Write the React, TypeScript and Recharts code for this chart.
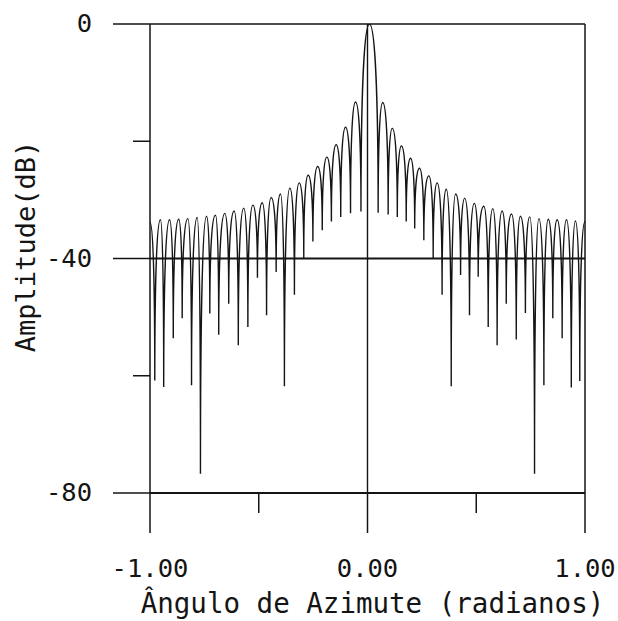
import React from "react";
import { LineChart, Line, XAxis, YAxis, ReferenceLine } from "recharts";

// lobe maxima (radians, dB)
const peakAngle = [
    -1.0, -0.952, -0.91, -0.868, -0.826, -0.783, -0.74, -0.699, -0.656, -0.613, -0.569, -0.527,
    -0.484, -0.443, -0.4, -0.357, -0.314, -0.273, -0.229, -0.187, -0.144, -0.101, -0.055,
    0.009,
    0.07, 0.114, 0.156, 0.198, 0.239, 0.282, 0.32, 0.362, 0.405, 0.447, 0.491, 0.535,
    0.576, 0.619, 0.662, 0.703, 0.746, 0.788, 0.831, 0.872, 0.915, 0.956, 1.0,
];
const peakLevel = [
    -33.8, -33.4, -33.4, -33.3, -33.2, -33.0, -32.8, -32.6, -32.3, -31.9, -31.4, -30.9,
    -30.5, -29.6, -29.0, -28.0, -27.1, -25.8, -24.3, -22.7, -20.6, -17.6, -13.3,
    0,
    -13.4, -17.8, -20.8, -22.9, -24.6, -25.9, -27.1, -28.2, -29.0, -29.7, -30.6, -31.1,
    -31.5, -31.9, -32.4, -32.8, -32.9, -33.2, -33.3, -33.4, -33.4, -33.6, -33.7,
];

// nulls between the lobes
const nullAngle = [
    -0.978, -0.937, -0.893, -0.852, -0.809, -0.768, -0.725, -0.684, -0.638, -0.594, -0.55, -0.506,
    -0.464, -0.42, -0.382, -0.336, -0.293, -0.251, -0.208, -0.166, -0.123, -0.078, -0.03,
    0.049, 0.095, 0.137, 0.178, 0.217, 0.259, 0.302, 0.343, 0.385, 0.428, 0.469, 0.509,
    0.555, 0.596, 0.638, 0.684, 0.726, 0.768, 0.811, 0.852, 0.895, 0.937, 0.976,
];
const nullLevel = [
    -60.8, -61.9, -53.6, -50.2, -61.6, -76.7, -49.4, -53.0, -47.7, -54.8, -51.7, -43.3,
    -49.7, -42.3, -61.8, -46.2, -40.0, -37.1, -35.2, -33.7, -32.9, -32.3, -32.0,
    -32.2, -32.5, -32.9, -33.7, -34.9, -36.9, -40.0, -46.2, -61.8, -42.8, -49.7, -43.1,
    -51.7, -54.8, -47.7, -53.8, -49.3, -76.7, -61.6, -50.2, -53.6, -62.0, -60.9,
];

const xTicks = [-1, -0.5, 0, 0.5, 1];
const xTickLabels = ["-1.00", "", "0.00", "", "1.00"];
const yTicks = [-80, -60, -40, -20, 0];
const yTickLabels = ["-80", "", "-40", "", "0"];

const pattern = [
    ...peakAngle.map((angle, i) => ({ angle, level: peakLevel[i] })),
    ...nullAngle.map((angle, i) => ({ angle, level: nullLevel[i] })),
].sort((a, b) => a.angle - b.angle);

const INK = "#141414";
const FONT = '"DejaVu Sans Mono", "Liberation Mono", monospace';

// lobes are round on top and drop steeply into each null
function lobeCurve(context: any) {
    let pts: [number, number][] = [];
    return {
        areaStart() {},
        areaEnd() {},
        lineStart() {
            pts = [];
        },
        point(x: number, y: number) {
            pts.push([+x, +y]);
        },
        lineEnd() {
            if (!pts.length) return;
            context.moveTo(pts[0][0], pts[0][1]);
            for (let i = 1; i < pts.length; i++) {
                const [x0, y0] = pts[i - 1];
                const [x1, y1] = pts[i];
                const dx = x1 - x0;
                if (y1 > y0) {
                    context.bezierCurveTo(x0 + dx * 0.6, y0, x1, y0 + (y1 - y0) * 0.35, x1, y1);
                } else {
                    context.bezierCurveTo(x0, y1 + (y0 - y1) * 0.35, x1 - dx * 0.6, y1, x1, y1);
                }
            }
        },
    };
}

function XTick({ x, y, payload }: any) {
    const label = xTickLabels[xTicks.indexOf(payload.value)];
    return (
        <g>
            <line x1={x} x2={x} y1={y} y2={y + (label ? 40 : 20)} stroke={INK} strokeWidth={1.5} />
            {label && (
                <text x={x} y={y + 84} textAnchor="middle" fontFamily={FONT} fontSize={25.5} fill={INK}>
                    {label}
                </text>
            )}
        </g>
    );
}

function YTick({ x, y, payload }: any) {
    const label = yTickLabels[yTicks.indexOf(payload.value)];
    return (
        <g>
            <line x1={x - (label ? 37 : 17)} x2={x} y1={y} y2={y} stroke={INK} strokeWidth={1.5} />
            {label && (
                <text x={x - 58} y={y + 8} textAnchor="end" fontFamily={FONT} fontSize={25.5} fill={INK}>
                    {label}
                </text>
            )}
        </g>
    );
}

function yTitle({ viewBox }: any) {
    const cx = viewBox.x + 35;
    const cy = viewBox.y + viewBox.height / 2 - 12;
    return (
        <text x={cx} y={cy} transform={`rotate(-90, ${cx}, ${cy})`} textAnchor="middle" fontFamily={FONT} fontSize={27} fill={INK}>
            Amplitude(dB)
        </text>
    );
}

function xTitle({ viewBox }: any) {
    return (
        <text x={viewBox.x + viewBox.width / 2 + 5} y={viewBox.y + 120} textAnchor="middle" fontFamily={FONT} fontSize={27.5} fill={INK}>
            Ângulo de Azimute (radianos)
        </text>
    );
}

export default function App() {
    return (
        <div style={{ position: "absolute", left: 0, top: 0, width: 618, height: 621, background: "#fff" }}>
            <LineChart width={618} height={621} data={pattern} margin={{ top: 24, right: 33, bottom: 0, left: 0 }}>
                <XAxis
                    dataKey="angle"
                    type="number"
                    domain={[-1, 1]}
                    ticks={xTicks}
                    interval={0}
                    height={128}
                    tickSize={0}
                    tickMargin={0}
                    tickLine={false}
                    axisLine={false}
                    tick={<XTick />}
                    label={xTitle}
                />
                <YAxis
                    type="number"
                    domain={[-80, 0]}
                    ticks={yTicks}
                    interval={0}
                    width={150}
                    tickSize={0}
                    tickMargin={0}
                    tickLine={false}
                    axisLine={false}
                    tick={<YTick />}
                    label={yTitle}
                    allowDataOverflow
                />
                <ReferenceLine y={0} stroke={INK} strokeWidth={1.5} />
                <ReferenceLine y={-40} stroke={INK} strokeWidth={1.8} />
                <ReferenceLine y={-80} stroke={INK} strokeWidth={1.8} />
                <ReferenceLine x={-1} stroke={INK} strokeWidth={1.5} />
                <ReferenceLine x={0} stroke={INK} strokeWidth={1.4} />
                <ReferenceLine x={1} stroke={INK} strokeWidth={1.5} />
                <Line
                    dataKey="level"
                    type={lobeCurve as any}
                    stroke={INK}
                    strokeWidth={1.4}
                    dot={false}
                    activeDot={false}
                    isAnimationActive={false}
                />
            </LineChart>
        </div>
    );
}
